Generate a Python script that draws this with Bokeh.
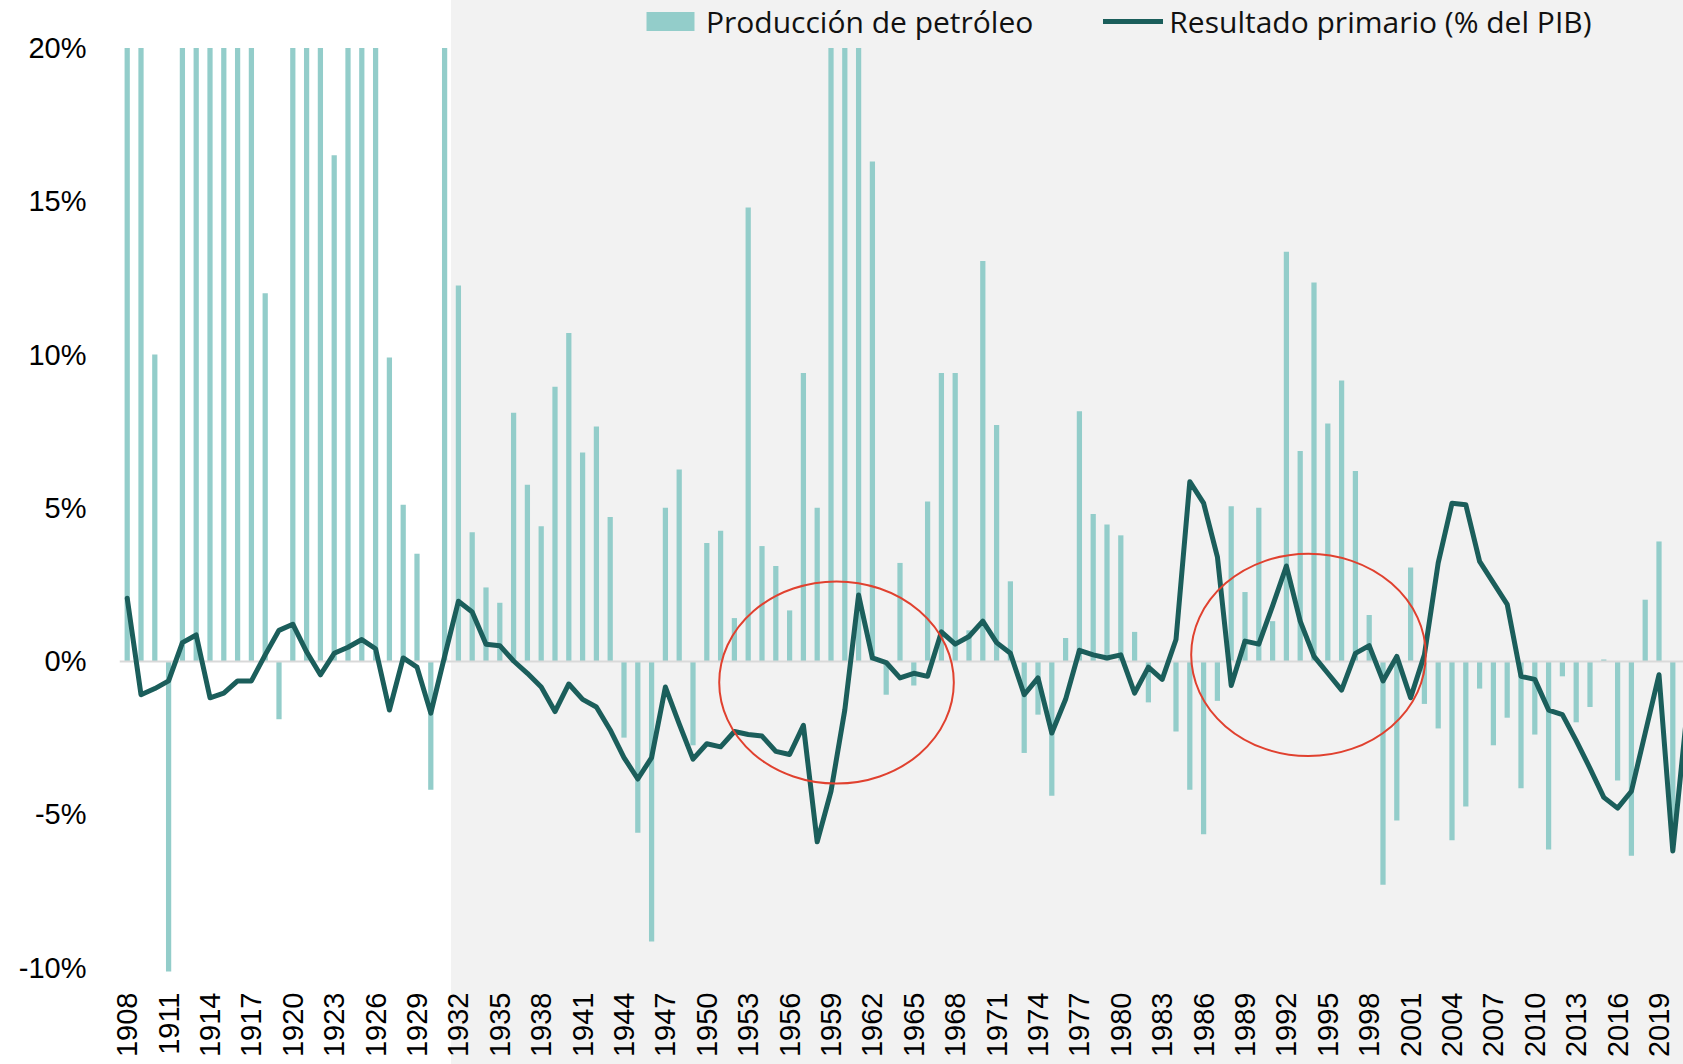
import math
from bokeh.plotting import figure
from bokeh.models import (FixedTicker, PrintfTickFormatter, Legend, LegendItem,
                          BoxAnnotation, Range1d)
from bokeh.embed import file_html
from bokeh.resources import INLINE

# ---------------- data ----------------
years_bars = list(range(1908, 2021))
oil_production = [
    20, 20, 10.0, -10.2, 20, 20, 20, 20, 20, 20,            # 1908-1917
    12.0, -1.9, 20, 20, 20, 16.5, 20, 20, 20, 9.9,          # 1918-1927
    5.1, 3.5, -4.2, 20, 12.25, 4.2, 2.4, 1.9, 8.1, 5.75,    # 1928-1937
    4.4, 8.95, 10.7, 6.8, 7.65, 4.7, -2.5, -5.6, -9.15, 5.0,  # 1938-1947
    6.25, -2.75, 3.85, 4.25, 1.4, 14.8, 3.75, 3.1, 1.65, 9.4,  # 1948-1957
    5.0, 20, 20, 20, 16.3, -1.1, 3.2, -0.8, 5.2, 9.4,       # 1958-1967
    9.4, 1.0, 13.05, 7.7, 2.6, -3.0, -1.75, -4.4, 0.75, 8.15,  # 1968-1977
    4.8, 4.45, 4.1, 0.95, -1.35, 0.0, -2.3, -4.2, -5.65, -1.3,  # 1978-1987
    5.05, 2.25, 5.0, 1.3, 13.35, 6.85, 12.35, 7.75, 9.15, 6.2,  # 1988-1997
    1.5, -7.3, -5.2, 3.05, -1.4, -2.2, -5.85, -4.75, -0.9, -2.75,  # 1998-2007
    -1.85, -4.15, -2.4, -6.15, -0.5, -2.0, -1.5, 0.05, -3.9, -6.35,  # 2008-2017
    2.0, 3.9, -5.5,                                         # 2018-2020
]
years_line = list(range(1908, 2022))
primary_balance = [
    2.05, -1.1, -0.9, -0.65, 0.6, 0.85, -1.2, -1.05, -0.65, -0.65,   # 1908-1917
    0.2, 1.0, 1.2, 0.3, -0.45, 0.25, 0.45, 0.7, 0.4, -1.6,           # 1918-1927
    0.1, -0.2, -1.7, 0.15, 1.95, 1.6, 0.55, 0.5, 0.0, -0.4,          # 1928-1937
    -0.85, -1.65, -0.75, -1.25, -1.5, -2.25, -3.15, -3.85, -3.15, -0.85,  # 1938-1947
    -2.05, -3.2, -2.7, -2.8, -2.3, -2.4, -2.45, -2.95, -3.05, -2.1,  # 1948-1957
    -5.9, -4.25, -1.6, 2.15, 0.1, -0.05, -0.55, -0.4, -0.5, 0.95,    # 1958-1967
    0.55, 0.8, 1.3, 0.6, 0.25, -1.1, -0.55, -2.35, -1.25, 0.35,      # 1968-1977
    0.2, 0.1, 0.2, -1.05, -0.2, -0.6, 0.7, 5.85, 5.15, 3.4,          # 1978-1987
    -0.8, 0.65, 0.55, 1.8, 3.1, 1.3, 0.15, -0.4, -0.95, 0.25,        # 1988-1997
    0.5, -0.65, 0.15, -1.2, 0.2, 3.2, 5.15, 5.1, 3.25, 2.55,         # 1998-2007
    1.85, -0.5, -0.6, -1.6, -1.75, -2.6, -3.5, -4.45, -4.8, -4.25,   # 2008-2017
    -2.35, -0.45, -6.2, -1.8,                                        # 2018-2021
]
x_tick_years = list(range(1908, 2020, 3))
y_ticks = [-10, -5, 0, 5, 10, 15, 20]
highlight_x = [1959.4, 1993.6]
highlight_y = [-0.7, 0.2]
highlight_w = [17.0, 17.0]
highlight_h = [6.6, 6.6]
shade_start = 1931.5

# ---------------- styles ----------------
BAR_COLOR = "#93cdca"
LINE_COLOR = "#1b5e5b"
RED = "#e0412f"
SHADE = "#f2f2f2"

W, H = 1683, 1064
FRAME_LEFT, FRAME_BOTTOM = 119, 93
px_per_year = 13.8
px_per_pct = 30.65
x_start = 1908 - (126.7 - FRAME_LEFT) / px_per_year
x_end = x_start + (W - FRAME_LEFT) / px_per_year
frame_h = H - FRAME_BOTTOM
y_end = 20.0 + 47.5 / px_per_pct          # frame reaches canvas top (legend lives there)
y_start = y_end - frame_h / px_per_pct
shade_px = FRAME_LEFT + (shade_start - x_start) * px_per_year

p = figure(width=W, height=H, output_backend="svg", toolbar_location=None,
           x_range=Range1d(x_start, x_end), y_range=Range1d(y_start, y_end),
           min_border_left=FRAME_LEFT, min_border_right=0,
           min_border_top=0, min_border_bottom=FRAME_BOTTOM,
           background_fill_color=None, border_fill_color=None,
           outline_line_color=None,
           styles={"background": "linear-gradient(to right, #ffffff %.1fpx, %s %.1fpx)"
                   % (shade_px, SHADE, shade_px)})

p.add_layout(BoxAnnotation(left=shade_start, fill_color=SHADE, fill_alpha=1.0,
                           line_color=None, level="underlay"))

bars = p.vbar(x=years_bars, top=oil_production, bottom=0, width=0.38,
              fill_color=BAR_COLOR, line_color=None)
p.hspan(y=[0], line_color="#d9d9d9", line_width=2)
line = p.line(years_line, primary_balance, line_color=LINE_COLOR, line_width=5,
              line_join="round", line_cap="round")
p.ellipse(x=highlight_x, y=highlight_y, width=highlight_w, height=highlight_h,
          fill_color=None, line_color=RED, line_width=2)

p.xgrid.visible = False
p.ygrid.visible = False

for ax in (p.xaxis[0], p.yaxis[0]):
    ax.axis_line_color = None
    ax.major_tick_line_color = None
    ax.minor_tick_line_color = None
    ax.major_tick_out = 0
    ax.major_tick_in = 0
    ax.minor_tick_out = 0
    ax.minor_tick_in = 0
    ax.major_label_text_font = "Liberation Sans"
    ax.major_label_text_font_size = "29px"
    ax.major_label_text_color = "#000000"

xa = p.xaxis[0]
xa.ticker = FixedTicker(ticks=x_tick_years)
xa.major_label_orientation = math.pi / 2
xa.major_label_standoff = 21

ya = p.yaxis[0]
ya.ticker = FixedTicker(ticks=y_ticks)
ya.formatter = PrintfTickFormatter(format="%d%%")
ya.major_label_standoff = 33

legend = Legend(items=[LegendItem(label="Producción de petróleo", renderers=[bars]),
                       LegendItem(label="Resultado primario (% del PIB)", renderers=[line])],
                orientation="horizontal",
                location=(521, frame_h - 21 - 20.5),
                label_text_font="Open Sans", label_text_font_size="30px",
                label_text_color="#111111",
                glyph_width=60, glyph_height=24, label_height=24,
                label_standoff=6, spacing=70, padding=0, margin=0,
                border_line_color=None, background_fill_alpha=0)
p.add_layout(legend)

open("out.html", "w").write(file_html(p, INLINE))
